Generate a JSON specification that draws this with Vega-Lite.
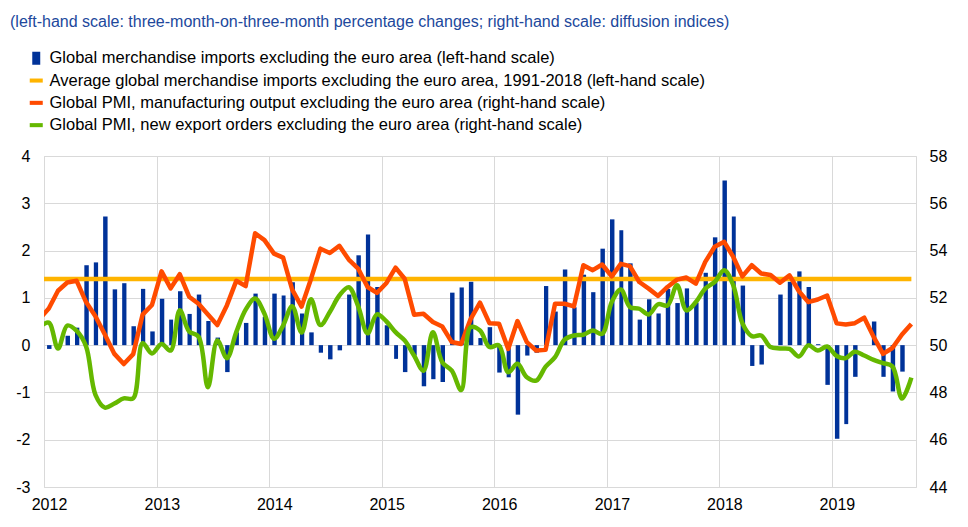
{
  "$schema": "https://vega.github.io/schema/vega-lite/v6.json",
  "width": 872,
  "height": 331,
  "autosize": {"type": "none"},
  "padding": {"left": 44, "top": 156, "right": 52, "bottom": 40},
  "background": "white",
  "config": {
    "view": {"stroke": "#d9d9d9", "strokeWidth": 1},
    "font": "Liberation Sans",
    "axis": {"labelFont": "Liberation Sans", "labelFontSize": 16, "labelColor": "#000000", "domain": false, "ticks": false, "gridColor": "#d9d9d9", "gridWidth": 1, "title": null}
  },
  "title": {
    "text": "(left-hand scale: three-month-on-three-month percentage changes; right-hand scale: diffusion indices)",
    "anchor": "start",
    "frame": "group",
    "orient": "top",
    "dx": -34,
    "offset": 20,
    "font": "Liberation Sans",
    "fontSize": 16,
    "fontWeight": "normal",
    "color": "#21489c"
  },
  "data": {
    "values": [
      {"date": "2011-12-01", "imports": null, "avg": 1.4, "pmi_output": 51.1, "pmi_export": 50.75},
      {"date": "2012-01-01", "imports": -0.08, "avg": 1.4, "pmi_output": 51.55, "pmi_export": 50.95},
      {"date": "2012-02-01", "imports": 0.02, "avg": 1.4, "pmi_output": 52.3, "pmi_export": 49.86},
      {"date": "2012-03-01", "imports": 0.2, "avg": 1.4, "pmi_output": 52.65, "pmi_export": 50.83},
      {"date": "2012-04-01", "imports": 0.37, "avg": 1.4, "pmi_output": 52.72, "pmi_export": 50.6},
      {"date": "2012-05-01", "imports": 1.69, "avg": 1.4, "pmi_output": 51.82, "pmi_export": 49.95},
      {"date": "2012-06-01", "imports": 1.75, "avg": 1.4, "pmi_output": 51.22, "pmi_export": 47.9},
      {"date": "2012-07-01", "imports": 2.72, "avg": 1.4, "pmi_output": 50.45, "pmi_export": 47.36},
      {"date": "2012-08-01", "imports": 1.18, "avg": 1.4, "pmi_output": 49.63, "pmi_export": 47.53},
      {"date": "2012-09-01", "imports": 1.31, "avg": 1.4, "pmi_output": 49.2, "pmi_export": 47.75},
      {"date": "2012-10-01", "imports": 0.4, "avg": 1.4, "pmi_output": 49.62, "pmi_export": 47.75},
      {"date": "2012-11-01", "imports": 1.19, "avg": 1.4, "pmi_output": 51.29, "pmi_export": 50.08},
      {"date": "2012-12-01", "imports": 0.29, "avg": 1.4, "pmi_output": 51.7, "pmi_export": 49.65},
      {"date": "2013-01-01", "imports": 0.98, "avg": 1.4, "pmi_output": 53.12, "pmi_export": 50.05},
      {"date": "2013-02-01", "imports": 0.54, "avg": 1.4, "pmi_output": 52.4, "pmi_export": 49.77},
      {"date": "2013-03-01", "imports": 1.14, "avg": 1.4, "pmi_output": 53.0, "pmi_export": 51.48},
      {"date": "2013-04-01", "imports": 0.66, "avg": 1.4, "pmi_output": 52.05, "pmi_export": 50.58},
      {"date": "2013-05-01", "imports": 1.07, "avg": 1.4, "pmi_output": 51.75, "pmi_export": 50.36},
      {"date": "2013-06-01", "imports": 0.51, "avg": 1.4, "pmi_output": 51.3, "pmi_export": 48.22},
      {"date": "2013-07-01", "imports": 0.16, "avg": 1.4, "pmi_output": 50.85, "pmi_export": 50.2},
      {"date": "2013-08-01", "imports": -0.57, "avg": 1.4, "pmi_output": 51.68, "pmi_export": 49.45},
      {"date": "2013-09-01", "imports": 0.27, "avg": 1.4, "pmi_output": 52.72, "pmi_export": 50.55},
      {"date": "2013-10-01", "imports": 0.47, "avg": 1.4, "pmi_output": 52.5, "pmi_export": 51.5},
      {"date": "2013-11-01", "imports": 1.09, "avg": 1.4, "pmi_output": 54.73, "pmi_export": 51.97},
      {"date": "2013-12-01", "imports": 0.6, "avg": 1.4, "pmi_output": 54.44, "pmi_export": 51.33},
      {"date": "2014-01-01", "imports": 1.09, "avg": 1.4, "pmi_output": 53.87, "pmi_export": 50.27},
      {"date": "2014-02-01", "imports": 1.05, "avg": 1.4, "pmi_output": 53.7, "pmi_export": 50.83},
      {"date": "2014-03-01", "imports": 1.33, "avg": 1.4, "pmi_output": 52.35, "pmi_export": 51.65},
      {"date": "2014-04-01", "imports": 0.67, "avg": 1.4, "pmi_output": 51.63, "pmi_export": 50.53},
      {"date": "2014-05-01", "imports": 0.27, "avg": 1.4, "pmi_output": 52.8, "pmi_export": 51.94},
      {"date": "2014-06-01", "imports": -0.16, "avg": 1.4, "pmi_output": 54.08, "pmi_export": 50.85},
      {"date": "2014-07-01", "imports": -0.3, "avg": 1.4, "pmi_output": 53.9, "pmi_export": 51.4},
      {"date": "2014-08-01", "imports": -0.11, "avg": 1.4, "pmi_output": 54.2, "pmi_export": 52.1},
      {"date": "2014-09-01", "imports": 1.07, "avg": 1.4, "pmi_output": 53.62, "pmi_export": 52.45},
      {"date": "2014-10-01", "imports": 1.9, "avg": 1.4, "pmi_output": 53.24, "pmi_export": 51.65},
      {"date": "2014-11-01", "imports": 2.34, "avg": 1.4, "pmi_output": 52.46, "pmi_export": 50.5},
      {"date": "2014-12-01", "imports": 1.23, "avg": 1.4, "pmi_output": 52.21, "pmi_export": 51.3},
      {"date": "2015-01-01", "imports": 0.42, "avg": 1.4, "pmi_output": 52.63, "pmi_export": 51.0},
      {"date": "2015-02-01", "imports": -0.29, "avg": 1.4, "pmi_output": 53.28, "pmi_export": 50.55},
      {"date": "2015-03-01", "imports": -0.57, "avg": 1.4, "pmi_output": 52.81, "pmi_export": 50.2},
      {"date": "2015-04-01", "imports": -0.22, "avg": 1.4, "pmi_output": 51.29, "pmi_export": 49.56},
      {"date": "2015-05-01", "imports": -0.87, "avg": 1.4, "pmi_output": 51.33, "pmi_export": 48.92},
      {"date": "2015-06-01", "imports": -0.72, "avg": 1.4, "pmi_output": 50.98, "pmi_export": 50.55},
      {"date": "2015-07-01", "imports": -0.78, "avg": 1.4, "pmi_output": 50.79, "pmi_export": 49.28},
      {"date": "2015-08-01", "imports": 1.11, "avg": 1.4, "pmi_output": 50.13, "pmi_export": 48.92},
      {"date": "2015-09-01", "imports": 1.22, "avg": 1.4, "pmi_output": 50.05, "pmi_export": 48.1},
      {"date": "2015-10-01", "imports": 1.34, "avg": 1.4, "pmi_output": 51.1, "pmi_export": 50.76},
      {"date": "2015-11-01", "imports": 0.15, "avg": 1.4, "pmi_output": 51.8, "pmi_export": 50.62},
      {"date": "2015-12-01", "imports": 0.38, "avg": 1.4, "pmi_output": 50.93, "pmi_export": 49.92},
      {"date": "2016-01-01", "imports": -0.58, "avg": 1.4, "pmi_output": 50.91, "pmi_export": 49.99},
      {"date": "2016-02-01", "imports": -0.68, "avg": 1.4, "pmi_output": 49.84, "pmi_export": 48.85},
      {"date": "2016-03-01", "imports": -1.47, "avg": 1.4, "pmi_output": 51.02, "pmi_export": 49.21},
      {"date": "2016-04-01", "imports": -0.22, "avg": 1.4, "pmi_output": 50.13, "pmi_export": 48.64},
      {"date": "2016-05-01", "imports": -0.16, "avg": 1.4, "pmi_output": 49.77, "pmi_export": 48.5},
      {"date": "2016-06-01", "imports": 1.25, "avg": 1.4, "pmi_output": 49.8, "pmi_export": 49.09},
      {"date": "2016-07-01", "imports": 0.71, "avg": 1.4, "pmi_output": 51.75, "pmi_export": 49.49},
      {"date": "2016-08-01", "imports": 1.6, "avg": 1.4, "pmi_output": 51.75, "pmi_export": 50.23},
      {"date": "2016-09-01", "imports": 0.8, "avg": 1.4, "pmi_output": 51.64, "pmi_export": 50.41},
      {"date": "2016-10-01", "imports": 1.49, "avg": 1.4, "pmi_output": 53.38, "pmi_export": 50.44},
      {"date": "2016-11-01", "imports": 1.12, "avg": 1.4, "pmi_output": 53.17, "pmi_export": 50.62},
      {"date": "2016-12-01", "imports": 2.04, "avg": 1.4, "pmi_output": 53.41, "pmi_export": 50.48},
      {"date": "2017-01-01", "imports": 2.66, "avg": 1.4, "pmi_output": 52.91, "pmi_export": 51.82},
      {"date": "2017-02-01", "imports": 2.43, "avg": 1.4, "pmi_output": 53.44, "pmi_export": 52.35},
      {"date": "2017-03-01", "imports": 1.73, "avg": 1.4, "pmi_output": 53.34, "pmi_export": 51.61},
      {"date": "2017-04-01", "imports": 0.54, "avg": 1.4, "pmi_output": 52.67, "pmi_export": 51.54},
      {"date": "2017-05-01", "imports": 0.97, "avg": 1.4, "pmi_output": 52.39, "pmi_export": 51.3},
      {"date": "2017-06-01", "imports": 0.67, "avg": 1.4, "pmi_output": 52.08, "pmi_export": 51.73},
      {"date": "2017-07-01", "imports": 1.19, "avg": 1.4, "pmi_output": 52.46, "pmi_export": 51.68},
      {"date": "2017-08-01", "imports": 0.89, "avg": 1.4, "pmi_output": 52.77, "pmi_export": 52.53},
      {"date": "2017-09-01", "imports": 1.2, "avg": 1.4, "pmi_output": 52.86, "pmi_export": 51.47},
      {"date": "2017-10-01", "imports": 0.9, "avg": 1.4, "pmi_output": 52.6, "pmi_export": 51.82},
      {"date": "2017-11-01", "imports": 1.53, "avg": 1.4, "pmi_output": 53.52, "pmi_export": 52.39},
      {"date": "2017-12-01", "imports": 2.28, "avg": 1.4, "pmi_output": 54.16, "pmi_export": 52.67},
      {"date": "2018-01-01", "imports": 3.48, "avg": 1.4, "pmi_output": 54.37, "pmi_export": 53.17},
      {"date": "2018-02-01", "imports": 2.72, "avg": 1.4, "pmi_output": 53.73, "pmi_export": 52.53},
      {"date": "2018-03-01", "imports": 1.26, "avg": 1.4, "pmi_output": 52.91, "pmi_export": 50.93},
      {"date": "2018-04-01", "imports": -0.44, "avg": 1.4, "pmi_output": 53.38, "pmi_export": 50.38},
      {"date": "2018-05-01", "imports": -0.41, "avg": 1.4, "pmi_output": 53.03, "pmi_export": 50.41},
      {"date": "2018-06-01", "imports": 0, "avg": 1.4, "pmi_output": 52.97, "pmi_export": 49.92},
      {"date": "2018-07-01", "imports": 1.07, "avg": 1.4, "pmi_output": 52.64, "pmi_export": 49.86},
      {"date": "2018-08-01", "imports": 1.34, "avg": 1.4, "pmi_output": 52.95, "pmi_export": 49.84},
      {"date": "2018-09-01", "imports": 1.56, "avg": 1.4, "pmi_output": 52.28, "pmi_export": 49.52},
      {"date": "2018-10-01", "imports": 1.23, "avg": 1.4, "pmi_output": 51.82, "pmi_export": 49.99},
      {"date": "2018-11-01", "imports": 0.02, "avg": 1.4, "pmi_output": 51.93, "pmi_export": 49.77},
      {"date": "2018-12-01", "imports": -0.84, "avg": 1.4, "pmi_output": 52.1, "pmi_export": 49.94},
      {"date": "2019-01-01", "imports": -1.98, "avg": 1.4, "pmi_output": 50.92, "pmi_export": 49.54},
      {"date": "2019-02-01", "imports": -1.67, "avg": 1.4, "pmi_output": 50.87, "pmi_export": 49.45},
      {"date": "2019-03-01", "imports": -0.67, "avg": 1.4, "pmi_output": 50.93, "pmi_export": 49.72},
      {"date": "2019-04-01", "imports": 0, "avg": 1.4, "pmi_output": 51.16, "pmi_export": 49.56},
      {"date": "2019-05-01", "imports": 0.5, "avg": 1.4, "pmi_output": 50.35, "pmi_export": 49.38},
      {"date": "2019-06-01", "imports": -0.67, "avg": 1.4, "pmi_output": 49.63, "pmi_export": 49.24},
      {"date": "2019-07-01", "imports": -0.98, "avg": 1.4, "pmi_output": 49.88, "pmi_export": 49.1},
      {"date": "2019-08-01", "imports": -0.56, "avg": 1.4, "pmi_output": 50.45, "pmi_export": 47.74},
      {"date": "2019-09-01", "imports": null, "avg": 1.4, "pmi_output": 50.89, "pmi_export": 48.63}
    ]
  },
  "layer": [
    {
      "mark": {"type": "bar", "width": {"band": 0.57}, "clip": true},
      "encoding": {
        "x": {"field": "date", "type": "temporal", "timeUnit": "utcyearmonth",
              "scale": {"domain": [{"year": 2012, "month": 1, "date": 1, "utc": true}, {"year": 2019, "month": 10, "date": 1, "utc": true}], "nice": false},
              "axis": {"values": [{"year": 2012, "month": 1, "date": 1, "utc": true}, {"year": 2013, "month": 1, "date": 1, "utc": true}, {"year": 2014, "month": 1, "date": 1, "utc": true}, {"year": 2015, "month": 1, "date": 1, "utc": true}, {"year": 2016, "month": 1, "date": 1, "utc": true}, {"year": 2017, "month": 1, "date": 1, "utc": true}, {"year": 2018, "month": 1, "date": 1, "utc": true}, {"year": 2019, "month": 1, "date": 1, "utc": true}],
                       "format": "%Y", "grid": true, "labelOffset": 5, "labelFlush": false, "labelOverlap": false, "labelPadding": 9}},
        "y": {"field": "imports", "type": "quantitative",
              "scale": {"domain": [-3, 4], "nice": false, "zero": false},
              "axis": {"orient": "left", "values": [-3, -2, -1, 0, 1, 2, 3, 4], "grid": true, "labelPadding": 14,
                       "labelExpr": "datum.value < 0 ? '-' + abs(datum.value) : '' + datum.value"}},
        "color": {"datum": "Global merchandise imports excluding the euro area (left-hand scale)",
                  "scale": {"domain": ["Global merchandise imports excluding the euro area (left-hand scale)", "Average global merchandise imports excluding the euro area, 1991-2018 (left-hand scale)", "Global PMI, manufacturing output excluding the euro area (right-hand scale)", "Global PMI, new export orders excluding the euro area (right-hand scale)"],
                            "range": ["#003299", "#ffb400", "#ff4b00", "#65b800"]},
                  "legend": {"orient": "none", "legendX": -16, "legendY": -106, "title": null, "padding": 0,
                             "labelFont": "Liberation Sans", "labelFontSize": 16.5, "labelColor": "#000000", "labelLimit": 900,
                             "symbolSize": 196, "rowPadding": 5.3, "labelOffset": 5,
                             "encode": {"symbols": {"update": {
                               "shape": {"signal": "indexof(datum.value, 'Global merchandise') === 0 ? 'M-0.57,-0.93H0.57V0.93H-0.57Z' : 'M-0.93,-0.29H0.93V0.29H-0.93Z'"},
                               "fill": {"signal": "scale('color', datum.value)"},
                               "stroke": {"value": "transparent"},
                               "strokeWidth": {"value": 0},
                               "opacity": {"value": 1}}}}}}
      }
    },
    {
      "mark": {"type": "line", "strokeWidth": 4.5, "clip": true},
      "encoding": {
        "x": {"field": "date", "type": "temporal", "timeUnit": "utcyearmonth", "bandPosition": 0.5},
        "y": {"field": "avg", "type": "quantitative", "scale": {"domain": [-3, 4], "nice": false, "zero": false}, "axis": null},
        "color": {"datum": "Average global merchandise imports excluding the euro area, 1991-2018 (left-hand scale)"}
      }
    },
    {
      "mark": {"type": "line", "strokeWidth": 4.5, "clip": true, "strokeJoin": "round"},
      "encoding": {
        "x": {"field": "date", "type": "temporal", "timeUnit": "utcyearmonth", "bandPosition": 0.5},
        "y": {"field": "pmi_output", "type": "quantitative", "scale": {"domain": [44, 58], "nice": false, "zero": false},
              "axis": {"orient": "right", "values": [44, 46, 48, 50, 52, 54, 56, 58], "grid": false, "labelPadding": 13}},
        "color": {"datum": "Global PMI, manufacturing output excluding the euro area (right-hand scale)"}
      }
    },
    {
      "mark": {"type": "line", "strokeWidth": 4.5, "clip": true, "interpolate": "catmull-rom"},
      "encoding": {
        "x": {"field": "date", "type": "temporal", "timeUnit": "utcyearmonth", "bandPosition": 0.5},
        "y": {"field": "pmi_export", "type": "quantitative", "scale": {"domain": [44, 58], "nice": false, "zero": false}, "axis": null},
        "color": {"datum": "Global PMI, new export orders excluding the euro area (right-hand scale)"}
      }
    }
  ],
  "resolve": {"scale": {"y": "independent"}}
}
